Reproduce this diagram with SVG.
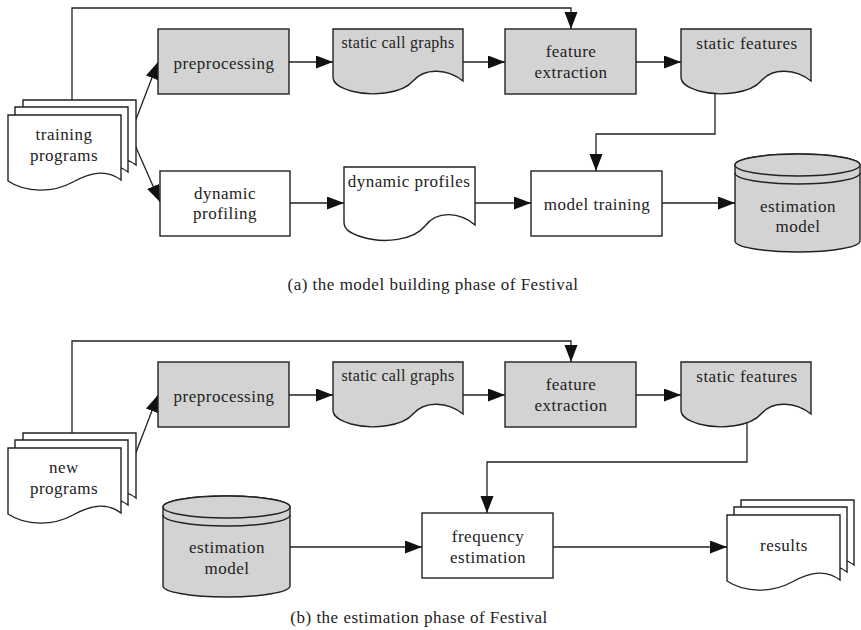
<svg xmlns="http://www.w3.org/2000/svg" xmlns:xlink="http://www.w3.org/1999/xlink" width="861" height="630" viewBox="0 0 861 630">
<style>
.box{fill:#fff;stroke:#222;stroke-width:1.4}
.grey{fill:#d3d3d3}
.wh{fill:#fff}
.sh{stroke:#222;stroke-width:1.4}
text{font-family:'Liberation Serif','Tinos','DejaVu Serif',serif}
.t{font-size:17px;letter-spacing:0.5px;fill:#222;text-anchor:middle}
.ts{font-size:16px;letter-spacing:0.3px}
.c{fill:none;stroke:#222;stroke-width:1.3}
</style>
<defs>
<marker id="ah" markerUnits="userSpaceOnUse" markerWidth="18" markerHeight="14" refX="17" refY="6.5" orient="auto">
<path d="M0,0 L17,6.5 L0,13 Z" fill="#111"/>
</marker>
<path id="sheet" d="M0,0 H113 V65 C100,55 85,56 65,67 C45,78 18,78 0,66 Z"/>
<path id="doc" d="M0,0 H130 V52 C115,40 92,38 80,52 C70,64 40,68 18,62 C5,58 0,54 0,48 Z"/>
</defs>

<g id="connectors">
<path class="c" d="M72,100 V8 H571 V29" marker-end="url(#ah)"/>
<path class="c" d="M135,122 L158,62" marker-end="url(#ah)"/>
<path class="c" d="M135,145 L160,202" marker-end="url(#ah)"/>
<path class="c" d="M289,62 H333" marker-end="url(#ah)"/>
<path class="c" d="M463,62 H505" marker-end="url(#ah)"/>
<path class="c" d="M636,62 H681" marker-end="url(#ah)"/>
<path class="c" d="M715,92 V134 H596 V171" marker-end="url(#ah)"/>
<path class="c" d="M290,203 H344" marker-end="url(#ah)"/>
<path class="c" d="M475,203 H531" marker-end="url(#ah)"/>
<path class="c" d="M662,203 H735" marker-end="url(#ah)"/>

<path class="c" d="M72,433 V341 H571 V362" marker-end="url(#ah)"/>
<path class="c" d="M135,455 L158,395" marker-end="url(#ah)"/>
<path class="c" d="M289,395 H333" marker-end="url(#ah)"/>
<path class="c" d="M463,395 H505" marker-end="url(#ah)"/>
<path class="c" d="M636,395 H681" marker-end="url(#ah)"/>
<path class="c" d="M747,414 V462 H487 V513" marker-end="url(#ah)"/>
<path class="c" d="M290,547 H422" marker-end="url(#ah)"/>
<path class="c" d="M553,547 H727" marker-end="url(#ah)"/>
</g>

<g id="training-programs">
<use xlink:href="#sheet" class="wh sh" transform="translate(23,100)"/>
<use xlink:href="#sheet" class="wh sh" transform="translate(15,107)"/>
<use xlink:href="#sheet" class="wh sh" transform="translate(8,115)"/>
<text class="t" x="64" y="140">training</text>
<text class="t" x="64" y="161">programs</text>
</g>
<g id="preprocessing-a">
<rect class="box grey" x="158" y="29" width="131" height="65"/>
<text class="t" x="224" y="69">preprocessing</text>
</g>
<g id="static-call-graphs-a">
<use xlink:href="#doc" class="grey sh" transform="translate(333,29)"/>
<text class="t ts" x="398" y="48">static call graphs</text>
</g>
<g id="feature-extraction-a">
<rect class="box grey" x="505" y="29" width="131" height="65"/>
<text class="t" x="571" y="57">feature</text>
<text class="t" x="571" y="78">extraction</text>
</g>
<g id="static-features-a">
<use xlink:href="#doc" class="grey sh" transform="translate(681,29)"/>
<text class="t" x="747" y="49">static features</text>
</g>
<g id="dynamic-profiling">
<rect class="box" x="160" y="171" width="130" height="65"/>
<text class="t" x="225" y="199">dynamic</text>
<text class="t" x="225" y="219">profiling</text>
</g>
<g id="dynamic-profiles">
<path class="wh sh" d="M344,167 H475 V225 C460,212 437,210 425,226 C414,240 384,244 362,237 C349,233 344,229 344,222 Z"/>
<text class="t" x="409" y="187">dynamic profiles</text>
</g>
<g id="model-training">
<rect class="box" x="531" y="171" width="131" height="65"/>
<text class="t" x="597" y="210">model training</text>
</g>
<g id="estimation-model-a">
<path class="grey sh" d="M735,165 A62.5,11 0 0 1 860,165 V241 A62.5,11 0 0 1 735,241 Z"/>
<ellipse class="grey sh" cx="797.5" cy="165" rx="62.5" ry="11"/>
<path class="sh" fill="none" d="M735,173 A62.5,11 0 0 0 860,173"/>
<text class="t" x="798" y="212">estimation</text>
<text class="t" x="798" y="232">model</text>
</g>
<text id="caption-a" class="t" x="433" y="290">(a) the model building phase of Festival</text>

<g id="new-programs">
<use xlink:href="#sheet" class="wh sh" transform="translate(23,433)"/>
<use xlink:href="#sheet" class="wh sh" transform="translate(15,440)"/>
<use xlink:href="#sheet" class="wh sh" transform="translate(8,448)"/>
<text class="t" x="64" y="473">new</text>
<text class="t" x="64" y="494">programs</text>
</g>
<g id="preprocessing-b">
<rect class="box grey" x="158" y="362" width="131" height="65"/>
<text class="t" x="224" y="402">preprocessing</text>
</g>
<g id="static-call-graphs-b">
<use xlink:href="#doc" class="grey sh" transform="translate(333,362)"/>
<text class="t ts" x="398" y="381">static call graphs</text>
</g>
<g id="feature-extraction-b">
<rect class="box grey" x="505" y="362" width="131" height="65"/>
<text class="t" x="571" y="390">feature</text>
<text class="t" x="571" y="411">extraction</text>
</g>
<g id="static-features-b">
<use xlink:href="#doc" class="grey sh" transform="translate(681,362)"/>
<text class="t" x="747" y="382">static features</text>
</g>
<g id="estimation-model-b">
<path class="grey sh" d="M163,507 A63.5,11 0 0 1 290,507 V586 A63.5,11 0 0 1 163,586 Z"/>
<ellipse class="grey sh" cx="226.5" cy="507" rx="63.5" ry="11"/>
<path class="sh" fill="none" d="M163,515 A63.5,11 0 0 0 290,515"/>
<text class="t" x="227" y="553">estimation</text>
<text class="t" x="227" y="574">model</text>
</g>
<g id="frequency-estimation">
<rect class="box" x="422" y="513" width="131" height="65"/>
<text class="t" x="488" y="542">frequency</text>
<text class="t" x="488" y="563">estimation</text>
</g>
<g id="results">
<use xlink:href="#sheet" class="wh sh" transform="translate(741,500)"/>
<use xlink:href="#sheet" class="wh sh" transform="translate(734,507)"/>
<use xlink:href="#sheet" class="wh sh" transform="translate(727,515)"/>
<text class="t" x="784" y="551">results</text>
</g>
<text id="caption-b" class="t" x="419" y="623">(b) the estimation phase of Festival</text>
</svg>
